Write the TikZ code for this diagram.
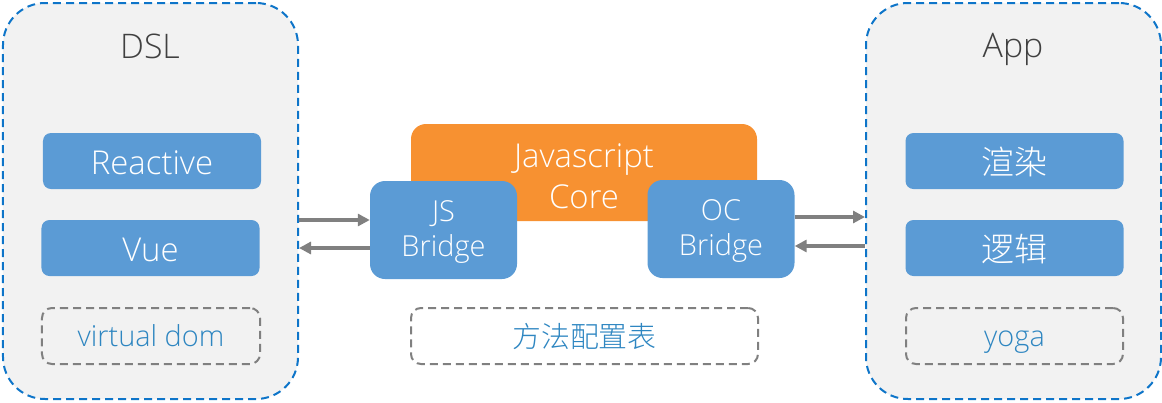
\documentclass[tikz,border=0pt]{standalone}
\usepackage{fontspec}
\IfFontExistsTF{Open Sans Light}{\setmainfont{Open Sans Light}}{\setmainfont{Open Sans}}
\IfFontExistsTF{Noto Sans CJK SC Light}{\newfontfamily\cjk{Noto Sans CJK SC Light}}{\newfontfamily\cjk{Noto Sans CJK SC}}
\usetikzlibrary{arrows.meta}
\definecolor{panelfill}{HTML}{F2F2F2}
\definecolor{panelborder}{HTML}{0E75C9}
\definecolor{boxblue}{HTML}{5B9BD5}
\definecolor{coreorange}{HTML}{F79131}
\definecolor{arrowgray}{HTML}{808080}
\definecolor{dashtext}{HTML}{2E86C1}
\definecolor{titlegray}{HTML}{404040}
\tikzset{
  panel/.style={draw=panelborder, fill=panelfill, line width=2bp,
    dash pattern=on 8bp off 5bp, rounded corners=42bp, rectangle,
    minimum width=295bp, minimum height=396bp, inner sep=0pt},
  bluebox/.style={fill=boxblue, rounded corners=8bp, rectangle,
    minimum width=218bp, minimum height=56bp, inner sep=0pt,
    text height=27bp, text depth=0bp,
    text=white, font=\fontsize{33}{34}\selectfont},
  dashbox/.style={draw=arrowgray, line width=2bp, dash pattern=on 8bp off 5bp,
    rounded corners=10bp, rectangle, minimum height=56bp, inner sep=0pt,
    text height=21bp, text depth=1bp,
    text=dashtext, font=\fontsize{29}{30}\selectfont},
  bridge/.style={fill=boxblue, rounded corners=15bp, rectangle,
    minimum width=147bp, minimum height=98bp, inner sep=0pt, align=center,
    text=white, font=\fontsize{29}{36}\selectfont},
  core/.style={fill=coreorange, rounded corners=15bp, rectangle,
    minimum width=346bp, minimum height=97bp, inner sep=0pt, align=center,
    text=white, font=\fontsize{33}{41}\selectfont},
  title/.style={text=titlegray, font=\fontsize{34}{36}\selectfont, inner sep=0pt},
  arr/.style={draw=arrowgray, line width=3.2bp, -{Triangle[length=12bp,width=12bp]}},
}
\begin{document}
\begin{tikzpicture}[x=1bp,y=-1bp]
\useasboundingbox (0,0) rectangle (1162,402);
% panels
\node[panel] (lp) at (150.5,201) {};
\node[panel] (rp) at (1013.5,201) {};
\node[title] (dsl) at (150,46) {DSL};
\node[title] (app) at (1013,49) {App};
% left boxes
\node[bluebox] (reactive) at (152,161) {Reactive};
\node[bluebox] (vue) at (150.5,248) {Vue};
\node[dashbox, minimum width=218bp] (vdom) at (151,336) {virtual dom};
% right boxes
\node[bluebox, font=\cjk\fontsize{33}{34}\selectfont] (render) at (1014.5,161) {渲染};
\node[bluebox, font=\cjk\fontsize{33}{34}\selectfont] (logic) at (1014.5,248) {逻辑};
\node[dashbox, minimum width=217bp] (yoga) at (1014.5,336) {yoga};
% middle
\node[core] (core) at (584,172.5) {\rule{0pt}{31bp}Javascript\\Core};
\node[bridge] (jsb) at (443.5,230) {\rule{0pt}{25bp}JS\\Bridge};
\node[bridge] (ocb) at (721,229) {\rule{0pt}{25bp}OC\\Bridge};
\node[dashbox, minimum width=347bp, text height=24bp, text depth=2bp, font=\cjk\fontsize{29}{30}\selectfont] (table) at (584.5,336) {方法配置表};
% arrows
\draw[arr] (lp.east |- 0,220) -- (jsb.west |- 0,220);
\draw[arr] (jsb.west |- 0,248) -- (lp.east |- 0,248);
\draw[arr] (ocb.east |- 0,217) -- (rp.west |- 0,217);
\draw[arr] (rp.west |- 0,246) -- (ocb.east |- 0,246);
\end{tikzpicture}
\end{document}
